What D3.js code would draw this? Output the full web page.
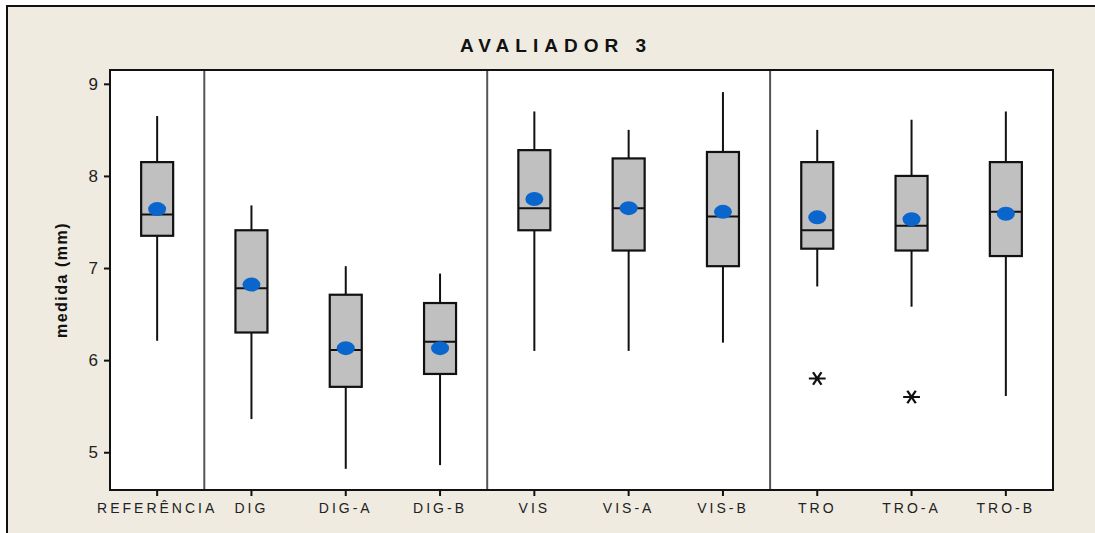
<!DOCTYPE html>
<html>
<head>
<meta charset="utf-8">
<script src="https://cdn.jsdelivr.net/npm/d3@7"></script>
<style>
  body { margin: 0; background: #fff; }
  svg { display: block; font-family: "Liberation Sans", Arial, sans-serif; }
</style>
</head>
<body>
<svg id="chart"></svg>
<script>
// categories and box statistics
var categories = ["REFERÊNCIA", "DIG", "DIG-A", "DIG-B", "VIS", "VIS-A", "VIS-B", "TRO", "TRO-A", "TRO-B"];
var whiskerLow  = [6.21, 5.36, 4.82, 4.86, 6.10, 6.10, 6.19, 6.80, 6.58, 5.61];
var q1          = [7.35, 6.30, 5.71, 5.85, 7.41, 7.19, 7.02, 7.21, 7.19, 7.13];
var medians     = [7.58, 6.78, 6.11, 6.20, 7.65, 7.65, 7.56, 7.41, 7.46, 7.61];
var q3          = [8.15, 7.41, 6.71, 6.62, 8.28, 8.19, 8.26, 8.15, 8.00, 8.15];
var whiskerHigh = [8.65, 7.68, 7.02, 6.94, 8.70, 8.50, 8.91, 8.50, 8.61, 8.70];
var means       = [7.64, 6.82, 6.13, 6.13, 7.75, 7.65, 7.61, 7.55, 7.53, 7.59];

// outliers
var outlierCats   = ["TRO", "TRO-A"];
var outlierValues = [5.80, 5.60];

// group separators (drawn at the left edge of these categories)
var dividerBefore = ["DIG", "VIS", "TRO"];

var yTicks = [5, 6, 7, 8, 9];

var W = 1095, H = 533;
var margin = {top: 70, right: 42, bottom: 43, left: 110};
var plotW = W - margin.left - margin.right,
    plotH = H - margin.top - margin.bottom;

var svg = d3.select("#chart").attr("width", W).attr("height", H);

// beige outer frame
svg.append("rect")
    .attr("x", 7).attr("y", 6)
    .attr("width", W + 10).attr("height", H + 10)
    .attr("fill", "#efebe1")
    .attr("stroke", "#111").attr("stroke-width", 2);

// title
svg.append("text")
    .attr("x", 556).attr("y", 52)
    .attr("text-anchor", "middle")
    .style("font-size", "19px")
    .style("font-weight", "bold")
    .style("letter-spacing", "6px")
    .attr("fill", "#111")
    .text("AVALIADOR 3");

var g = svg.append("g")
    .attr("transform", "translate(" + margin.left + "," + margin.top + ")");

var x = d3.scaleBand()
    .domain(categories)
    .range([0, plotW])
    .padding(0);

var y = d3.scaleLinear()
    .domain([4.59, 9.15])
    .range([plotH, 0]);

// plot background
g.append("rect")
    .attr("width", plotW).attr("height", plotH)
    .attr("fill", "#fff");

// y axis
var yAxis = g.append("g")
    .call(d3.axisLeft(y).tickValues(yTicks).tickSize(6).tickPadding(6).tickFormat(d3.format("d")));
yAxis.select(".domain").remove();
yAxis.selectAll(".tick line").attr("stroke", "#111").attr("stroke-width", 2);
yAxis.selectAll(".tick text")
    .style("font-size", "17px")
    .style("font-family", "Liberation Sans, Arial, sans-serif")
    .attr("fill", "#222");

// x axis
var xAxis = g.append("g")
    .attr("transform", "translate(0," + plotH + ")")
    .call(d3.axisBottom(x).tickSize(6).tickPadding(7));
xAxis.select(".domain").remove();
xAxis.selectAll(".tick line").attr("stroke", "#111").attr("stroke-width", 2);
xAxis.selectAll(".tick text")
    .style("font-size", "14px")
    .style("font-family", "Liberation Sans, Arial, sans-serif")
    .style("letter-spacing", "3px")
    .attr("fill", "#222");

// y axis title
svg.append("text")
    .attr("transform", "translate(67," + (margin.top + 210) + ") rotate(-90)")
    .attr("text-anchor", "middle")
    .style("font-size", "16px")
    .style("font-weight", "bold")
    .style("letter-spacing", "1.5px")
    .attr("fill", "#111")
    .text("medida (mm)");

// group dividers
g.selectAll(".divider")
    .data(dividerBefore)
    .join("line")
    .attr("x1", function(d) { return x(d); })
    .attr("x2", function(d) { return x(d); })
    .attr("y1", 0).attr("y2", plotH)
    .attr("stroke", "#555").attr("stroke-width", 2);

var boxW = 32;
var data = categories.map(function(c, i) {
    return {name: c, lo: whiskerLow[i], q1: q1[i], med: medians[i], q3: q3[i], hi: whiskerHigh[i], mean: means[i]};
});
var cx = function(d) { return x(d.name) + x.bandwidth() / 2; };

// whiskers
g.selectAll(".whisker")
    .data(data)
    .join("line")
    .attr("x1", cx).attr("x2", cx)
    .attr("y1", function(d) { return y(d.lo); })
    .attr("y2", function(d) { return y(d.hi); })
    .attr("stroke", "#111").attr("stroke-width", 2);

// boxes
g.selectAll(".box")
    .data(data)
    .join("rect")
    .attr("x", function(d) { return cx(d) - boxW / 2; })
    .attr("y", function(d) { return y(d.q3); })
    .attr("width", boxW)
    .attr("height", function(d) { return y(d.q1) - y(d.q3); })
    .attr("fill", "#c0c0c0")
    .attr("stroke", "#111").attr("stroke-width", 2.2);

// medians
g.selectAll(".median")
    .data(data)
    .join("line")
    .attr("x1", function(d) { return cx(d) - boxW / 2; })
    .attr("x2", function(d) { return cx(d) + boxW / 2; })
    .attr("y1", function(d) { return y(d.med); })
    .attr("y2", function(d) { return y(d.med); })
    .attr("stroke", "#111").attr("stroke-width", 2);

// means
g.selectAll(".mean")
    .data(data)
    .join("ellipse")
    .attr("cx", cx)
    .attr("cy", function(d) { return y(d.mean); })
    .attr("rx", 9).attr("ry", 7)
    .attr("fill", "#0a66cc");

// outliers
var star = d3.symbol().type(d3.symbolAsterisk).size(150);
g.selectAll(".outlier")
    .data(outlierCats.map(function(c, i) { return {name: c, v: outlierValues[i]}; }))
    .join("path")
    .attr("d", star)
    .attr("transform", function(d) { return "translate(" + cx(d) + "," + y(d.v) + ") rotate(90) scale(1,1.15)"; })
    .attr("fill", "none")
    .attr("stroke", "#111").attr("stroke-width", 2);

// plot frame
g.append("rect")
    .attr("width", plotW).attr("height", plotH)
    .attr("fill", "none")
    .attr("stroke", "#111").attr("stroke-width", 2);
</script>
</body>
</html>
